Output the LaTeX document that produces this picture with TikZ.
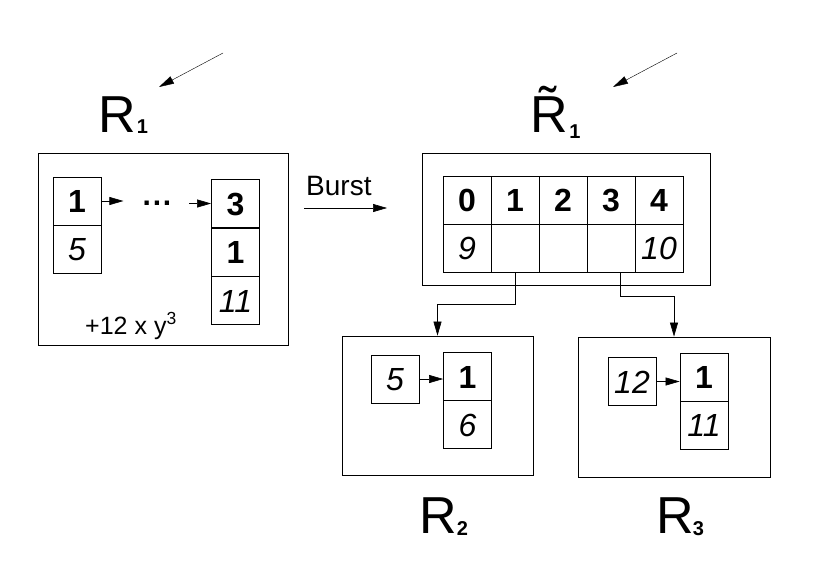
\documentclass[tikz,border=0pt]{standalone}
\usepackage{fontspec}
\setmainfont{Liberation Sans}
\usetikzlibrary{arrows.meta,calc}
\begin{document}
\begin{tikzpicture}[x=1pt,y=-1pt,
  cell/.style={draw, line width=0.8pt, minimum width=48pt, minimum height=48pt, inner sep=0pt, text height=23pt, text depth=0pt, font=\fontsize{32}{32}\selectfont},
  bcell/.style={cell, font=\fontsize{32}{32}\selectfont\bfseries},
  icell/.style={cell, font=\fontsize{32}{32}\selectfont\itshape},
  bigbox/.style={draw, line width=0.8pt, inner sep=0pt},
  arr/.style={-{Triangle[length=14pt,width=8pt]}, line width=0.6pt},
  thinarr/.style={-{Triangle[length=15pt,width=8pt]}, line width=0.4pt},
  lbl/.style={anchor=base west, inner sep=0pt, font=\fontsize{52}{52}\selectfont},
]
\newcommand{\subsz}{\fontsize{20}{20}\selectfont\bfseries}
\useasboundingbox (0,0) rectangle (816,576);

% ---------- R1 ----------
\node[bigbox, minimum width=250pt, minimum height=192pt] (R1) at (163,249) {};
\node[bcell] (a1) at (77,201) {1};
\node[icell] (a2) at (77,249) {5};
\node[bcell] (c1) at (235.5,203.5) {3};
\node[bcell] (c2) at (235.5,252) {1};
\node[icell] (c3) at (235.5,300.5) {11};
\node[inner sep=0pt, font=\fontsize{30}{30}\selectfont\bfseries] (dots) at (157,203) {.\kern1.8pt.\kern1.8pt.};
\draw[arr] (a1.east) -- ++(22,0);
\draw[arr] ($(c1.west)+(-22,0)$) -- (c1.west);
\node[anchor=base, inner sep=0pt, font=\fontsize{25}{25}\selectfont] (poly) at (131,334) {+12 x y\textsuperscript{3}};
\node[lbl] (L1) at (98,132) {R\kern1pt\raisebox{-1pt}{\subsz 1}};
\coordinate (p1) at (223,53);
\coordinate (q1) at (159,87);
\draw[thinarr] (p1) -- (q1);

% ---------- Burst ----------
\coordinate (bs) at (304,208);
\coordinate (be) at (387,208);
\draw[arr] (bs) -- (be);
\node[anchor=base west, inner sep=0pt, font=\fontsize{28}{28}\selectfont] (burst) at (306,195) {Burst};

% ---------- R1 tilde ----------
\node[bigbox, minimum width=288pt, minimum height=132pt] (RT) at (566,219) {};
\foreach \i/\t/\b in {0/0/9, 1/1/, 2/2/, 3/3/, 4/4/10} {
  \node[bcell] (t\i) at ({467+48*\i},200) {\t};
  \node[icell] (u\i) at ({467+48*\i},248) {\b};
}
\node[lbl] (LT) at (530,132) {\~{R}\kern1.5pt\raisebox{-6pt}{\subsz 1}};
\coordinate (p2) at (677,53);
\coordinate (q2) at (613,87);
\draw[thinarr] (p2) -- (q2);

% ---------- R2 ----------
\node[bigbox, minimum width=191pt, minimum height=139pt] (R2) at (437.5,405.5) {};
\node[icell] (e5) at (395,379) {5};
\node[bcell] (f1) at (467.5,376.5) {1};
\node[icell] (f2) at (467.5,424.5) {6};
\draw[arr] (e5.east) -- (e5.east -| f1.west);
\node[lbl] (L2) at (419,533) {R\raisebox{-2pt}{\subsz 2}};

% ---------- R3 ----------
\node[bigbox, minimum width=192pt, minimum height=140pt] (R3) at (674,407) {};
\node[icell] (g) at (632,381.5) {12};
\node[bcell] (h1) at (704,377) {1};
\node[icell] (h2) at (704,425) {11};
\draw[arr] (g.east) -- (g.east -| h1.west);
\node[lbl] (L3) at (656,533) {R\kern-1pt\raisebox{-2pt}{\subsz 3}};

% ---------- connectors ----------
\draw[arr] (u1.south) -- ++(0,32) -| (R2.north);
\draw[arr] ([xshift=9pt]u3.south) -- ++(0,24) -| (R3.north);
\end{tikzpicture}
\end{document}
